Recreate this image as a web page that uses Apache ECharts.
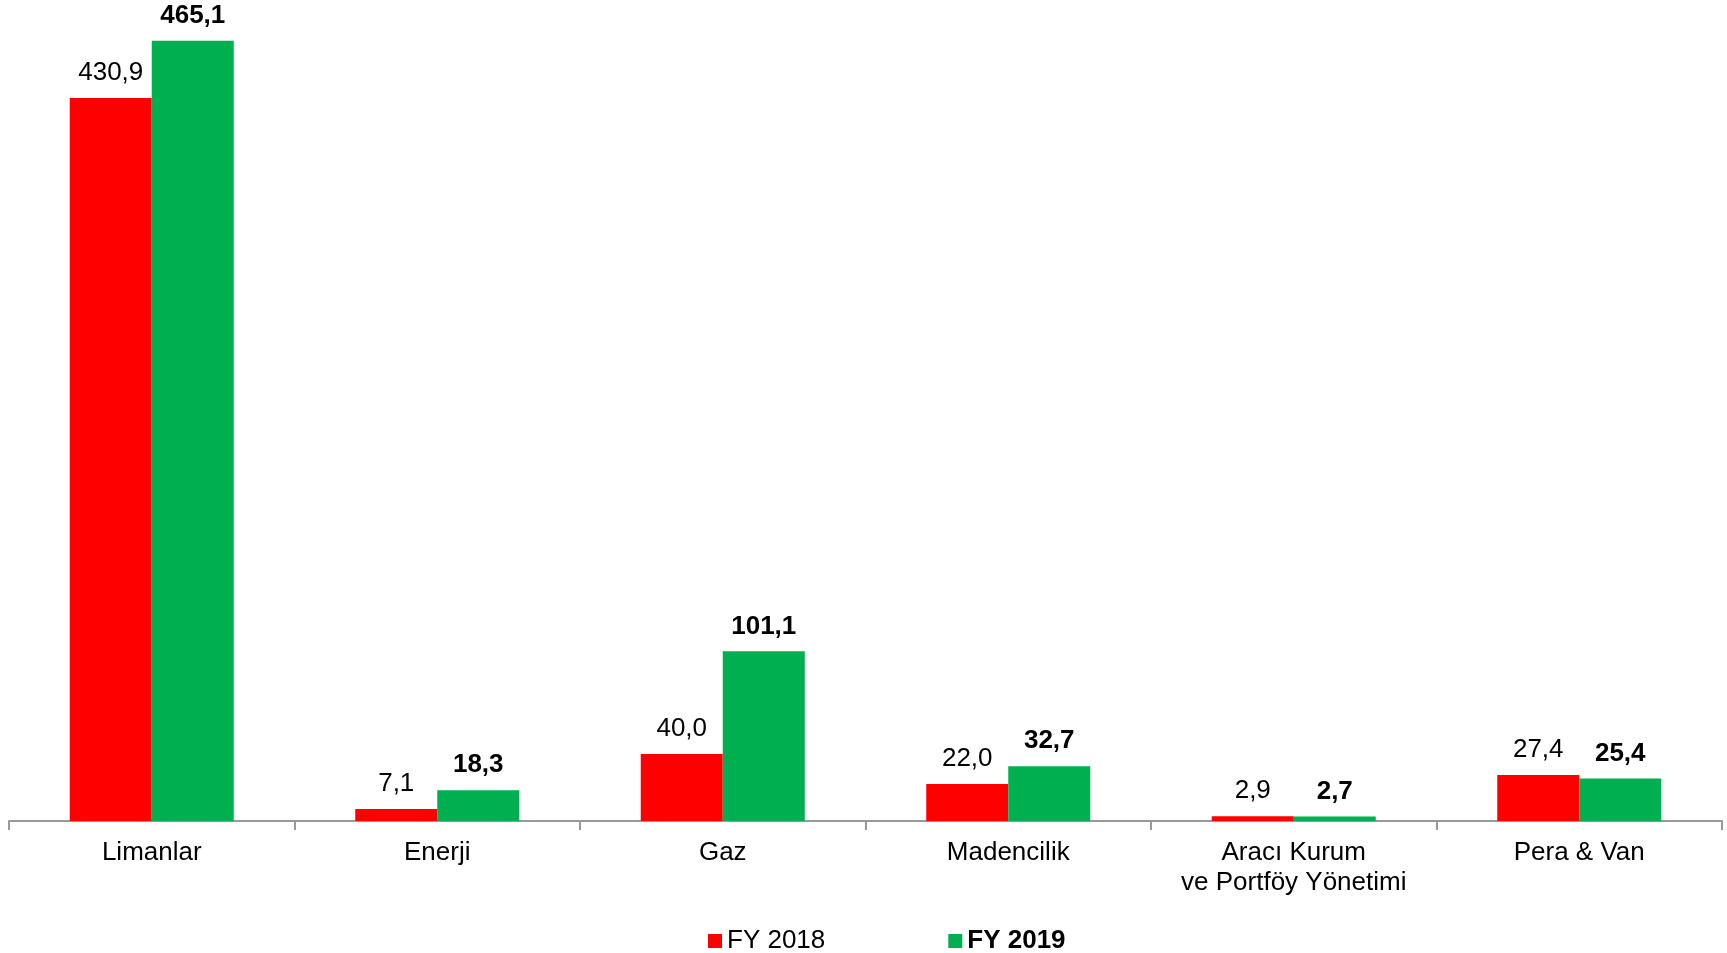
<!DOCTYPE html>
<html>
<head>
<meta charset="utf-8">
<style>
  html, body { margin: 0; padding: 0; background: #fff; }
  #main { width: 1727px; height: 953px; }
</style>
<script src="https://cdn.jsdelivr.net/npm/echarts@6/dist/echarts.min.js"></script>
</head>
<body>
<div id="main"></div>
<script>
var dom = document.getElementById('main');
var myChart = echarts.init(dom, null, { renderer: 'canvas' });

const categories = ['Limanlar', 'Enerji', 'Gaz', 'Madencilik', 'Aracı Kurum\nve Portföy Yönetimi', 'Pera & Van'];
const fy2018 = [430.9, 7.1, 40.0, 22.0, 2.9, 27.4];
const fy2019 = [465.1, 18.3, 101.1, 32.7, 2.7, 25.4];

const font = '"Liberation Sans", Arial, sans-serif';
const fmt = function (p) { return p.value.toFixed(1).replace('.', ','); };

var option = {
  animation: false,
  textStyle: { fontFamily: font },
  grid: { left: 9, right: 5, top: 18, bottom: 132 },
  legend: {
    left: 703,
    top: 923,
    icon: 'rect',
    itemWidth: 14,
    itemHeight: 14,
    itemGap: 123,
    textStyle: { fontFamily: font, fontSize: 26, color: '#000' },
    data: [
      { name: 'FY 2018' },
      { name: 'FY 2019', textStyle: { fontWeight: 'bold' } }
    ]
  },
  xAxis: {
    type: 'category',
    data: categories,
    axisLine: { lineStyle: { color: '#999999', width: 2 } },
    axisTick: { show: true, length: 9, lineStyle: { color: '#999999', width: 2 } },
    axisLabel: {
      color: '#000',
      fontFamily: font,
      fontSize: 26,
      lineHeight: 30,
      margin: 17,
      interval: 0
    }
  },
  yAxis: {
    type: 'value',
    min: 0,
    max: 478.6,
    show: false
  },
  series: [
    {
      name: 'FY 2018',
      type: 'bar',
      data: fy2018,
      barWidth: 82,
      barGap: '0%',
      itemStyle: { color: '#ff0000' },
      label: {
        show: true,
        position: 'top',
        distance: 12,
        formatter: fmt,
        color: '#000',
        fontFamily: font,
        fontSize: 26
      }
    },
    {
      name: 'FY 2019',
      type: 'bar',
      data: fy2019,
      barWidth: 82,
      barGap: '0%',
      itemStyle: { color: '#00b050' },
      label: {
        show: true,
        position: 'top',
        distance: 12,
        formatter: fmt,
        color: '#000',
        fontFamily: font,
        fontSize: 26,
        fontWeight: 'bold'
      }
    }
  ]
};

myChart.setOption(option);
window.addEventListener('resize', myChart.resize);
</script>
</body>
</html>
